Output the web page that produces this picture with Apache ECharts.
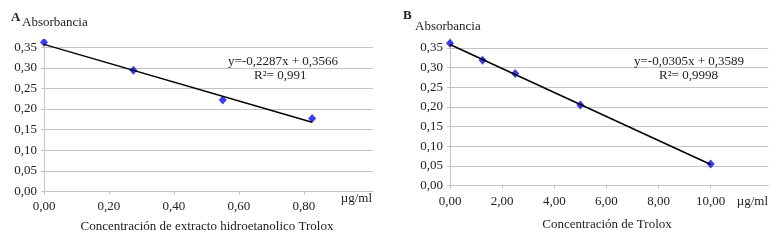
<!DOCTYPE html>
<html><head><meta charset="utf-8">
<script src="https://cdn.jsdelivr.net/npm/echarts@6/dist/echarts.min.js"></script>
<style>html,body{margin:0;padding:0;background:#fff}#c{width:782px;height:240px}</style>
</head><body><div id="c"></div>
<script>
// Panel A data
const xA = [0, 0.275, 0.55, 0.825];
const yA = [0.362, 0.294, 0.222, 0.177];
const trendAx = [0, 0.825];
const trendAy = [0.3566, 0.168];
const xTicksA = [0, 0.2, 0.4, 0.6, 0.8];
// Panel B data
const xB = [0, 1.25, 2.5, 5, 10];
const yB = [0.362, 0.319, 0.285, 0.205, 0.055];
const trendBx = [0, 10];
const trendBy = [0.3589, 0.0539];
const xTicksB = [0, 2, 4, 6, 8, 10];
const yTicks = [0, 0.05, 0.10, 0.15, 0.20, 0.25, 0.30, 0.35];

const FONT = '"Liberation Serif", "Times New Roman", serif';
const TXT = '#222';
const GRID = '#c4c4c4';
const fmt = v => Number(v).toFixed(2).replace('.', ',');

function xAxis(gi, max, ticks) {
  return {
    type: 'value', gridIndex: gi, min: 0, max: max,
    axisLine: {show: true, onZero: false, lineStyle: {color: GRID}},
    axisTick: {show: true, length: 3, customValues: ticks, lineStyle: {color: GRID}},
    axisLabel: {customValues: ticks, formatter: fmt, color: TXT, fontFamily: FONT, fontSize: 13, margin: 9},
    splitLine: {show: false}
  };
}
function yAxis(gi) {
  return {
    type: 'value', gridIndex: gi, min: 0, max: 0.4, interval: 0.05,
    axisLine: {show: true, lineStyle: {color: GRID}},
    axisTick: {show: true, length: 3, customValues: yTicks, lineStyle: {color: GRID}},
    axisLabel: {customValues: yTicks, formatter: fmt, color: TXT, fontFamily: FONT, fontSize: 13, margin: 7},
    splitLine: {show: true, lineStyle: {color: GRID, width: 1}}
  };
}
const zip = (a, b) => a.map((v, i) => [v, b[i]]);

function txt(x, y, s, opts) {
  return Object.assign({type: 'text', x: x, y: y, z: 100,
    style: Object.assign({text: s, fill: TXT, font: '13px ' + FONT, textVerticalAlign: 'middle'}, opts || {})});
}

const chart = echarts.init(document.getElementById('c'), null, {renderer: 'canvas'});
chart.setOption({
  animation: false,
  backgroundColor: '#fff',
  grid: [
    {left: 44, top: 26.5, width: 328.7, height: 165},
    {left: 450, top: 28.3, width: 318.3, height: 157.4}
  ],
  xAxis: [xAxis(0, 1.0114, xTicksA), xAxis(1, 12.21, xTicksB)],
  yAxis: [yAxis(0), yAxis(1)],
  series: [
    {type: 'line', xAxisIndex: 0, yAxisIndex: 0, data: zip(trendAx, trendAy), showSymbol: false,
     lineStyle: {color: '#000', width: 1.5}, silent: true},
    {type: 'scatter', xAxisIndex: 0, yAxisIndex: 0, data: zip(xA, yA), symbol: 'diamond',
     symbolSize: [8, 9], itemStyle: {color: '#0a0aff'}},
    {type: 'line', xAxisIndex: 1, yAxisIndex: 1, data: zip(trendBx, trendBy), showSymbol: false,
     lineStyle: {color: '#000', width: 1.5}, silent: true},
    {type: 'scatter', xAxisIndex: 1, yAxisIndex: 1, data: zip(xB, yB), symbol: 'diamond',
     symbolSize: [8, 9], itemStyle: {color: '#0a0aff'}}
  ],
  graphic: [
    {type: 'rect', z: 90, shape: {x: 20, y: 12, width: 70, height: 27}, style: {fill: '#fff'}},
    {type: 'rect', z: 90, shape: {x: 412, y: 12, width: 75, height: 26}, style: {fill: '#fff'}},
    txt(11, 18, 'A', {font: 'bold 13px ' + FONT}),
    txt(22, 23, 'Absorbancia'),
    txt(403, 16, 'B', {font: 'bold 13px ' + FONT}),
    txt(415, 27, 'Absorbancia'),
    txt(228, 62, 'y=-0,2287x + 0,3566'),
    txt(254, 76, 'R²= 0,991'),
    txt(634, 62, 'y=-0,0305x + 0,3589'),
    txt(659, 76, 'R²= 0,9998'),
    txt(372, 199, 'µg/ml', {textAlign: 'right'}),
    txt(768, 201.5, 'µg/ml', {textAlign: 'right'}),
    txt(207, 227, 'Concentración de extracto hidroetanolico Trolox', {textAlign: 'center'}),
    txt(607, 225, 'Concentración de Trolox', {textAlign: 'center'})
  ]
});
</script></body></html>
